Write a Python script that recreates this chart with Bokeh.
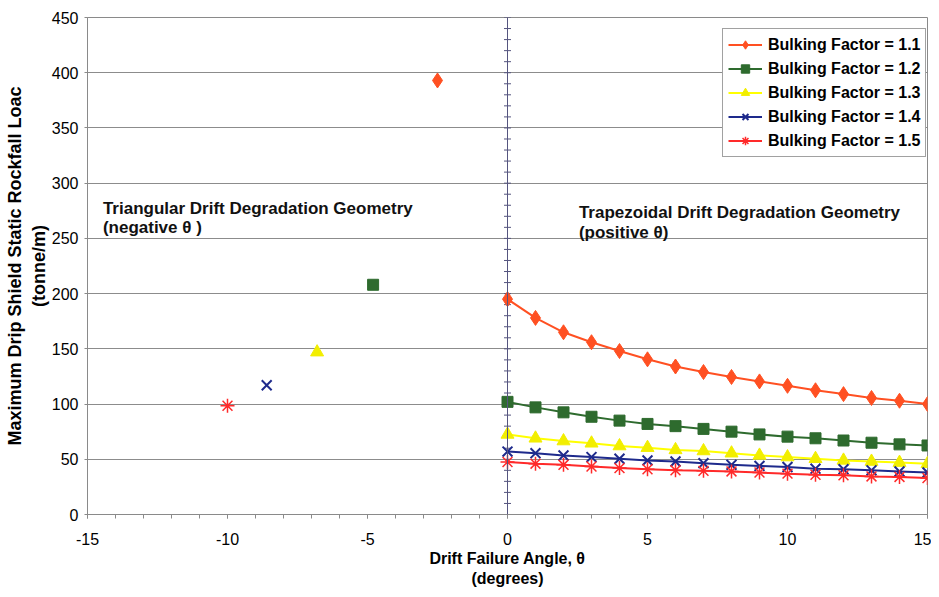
from bokeh.plotting import figure
from bokeh.models import (SingleIntervalTicker, Span, Legend, LegendItem, PrintfTickFormatter)
from bokeh.core.properties import value
from bokeh.embed import file_html
from bokeh.resources import INLINE
import numpy as np

# ---- data ----
theta = list(range(0, 16))
bf11 = [195, 178, 165, 156, 148, 140.5, 134, 129, 124.5, 120.5, 116.5, 112.5, 109, 105.5, 103, 100]
bf12 = [102, 97, 92.5, 88.5, 85, 82, 80, 77.5, 75, 72.5, 70.5, 69, 67, 65, 63.5, 62.5]
bf13 = [72.5, 69, 66.5, 64.5, 62, 60.5, 58.5, 57.5, 55.5, 53.5, 52, 50.5, 49, 48, 47, 46]
bf14 = [57, 55.5, 53.5, 52, 50.5, 49, 48, 46.5, 45, 44, 43, 41.5, 41, 40, 39, 38]
bf15 = [47.5, 46, 45, 43.5, 42, 41, 40, 39.5, 39, 38, 37, 36, 35.5, 34.5, 34, 33]

tri_theta = [-2.5, -4.8, -6.8, -8.6, -10.0]
tri_load = [393, 208, 147, 117, 98.5]

labels = ["Bulking Factor = 1.1", "Bulking Factor = 1.2", "Bulking Factor = 1.3",
          "Bulking Factor = 1.4", "Bulking Factor = 1.5"]
series = [bf11, bf12, bf13, bf14, bf15]

FONT = "Liberation Sans"

p = figure(width=931, height=589, x_range=(-15, 15), y_range=(0, 450),
           output_backend="svg", toolbar_location=None,
           min_border_left=87, min_border_right=4, min_border_top=17, min_border_bottom=72)
p.background_fill_color = "white"
p.border_fill_color = "white"
p.outline_line_color = "#8a8a8a"
p.outline_line_width = 1

# axes
p.xaxis.ticker = SingleIntervalTicker(interval=5, num_minor_ticks=5)
p.yaxis.ticker = SingleIntervalTicker(interval=50, num_minor_ticks=0)
p.xaxis.formatter = PrintfTickFormatter(format="%d")
for ax in (p.xaxis[0], p.yaxis[0]):
    ax.major_label_text_font = FONT
    ax.major_label_text_font_size = "16px"
    ax.major_label_text_color = "black"
    ax.axis_label_text_font = FONT
    ax.axis_label_text_font_style = "bold"
    ax.axis_label_text_color = "black"
    ax.axis_line_color = "#8a8a8a"
    ax.major_tick_line_color = "#8a8a8a"
    ax.minor_tick_line_color = "#8a8a8a"
    ax.major_tick_in = 0
    ax.minor_tick_in = 0

p.xaxis.major_tick_out = 4
p.xaxis.minor_tick_out = 4
p.xaxis.major_label_standoff = 14
p.xaxis.axis_label = "Drift Failure Angle, θ\n(degrees)"
p.xaxis.axis_label_text_font_size = "16px"
p.xaxis.axis_label_standoff = 2

p.yaxis.major_tick_out = 3
p.yaxis.minor_tick_out = 0
p.yaxis.major_label_standoff = 6
p.yaxis.axis_label = "Maximum Drip Shield Static Rockfall Loac\n(tonne/m)"
p.yaxis.axis_label_text_font_size = "18px"
p.yaxis.axis_label_standoff = 0

p.xgrid.visible = False
p.ygrid.grid_line_color = "#8c8c8c"
p.ygrid.grid_line_width = 1

# vertical axis through theta = 0 with cross ticks
p.add_layout(Span(location=0, dimension="height", line_color="#55557f", line_width=1))
yt = np.arange(0, 451, 10)
p.scatter(x=np.zeros_like(yt), y=yt, marker="dash", size=7, line_color="#55557f", line_width=1)

colors = ["#ff5022", "#2e6b2e", "#ffff00", "#1e2a8c", "#ff2a2a"]
fills = ["#ff5022", "#2e6b2e", "#f2ee00", "#1e2a8c", "#ff2a2a"]
markers = ["diamond", "square", "triangle", "x", "asterisk"]
sizes = [15, 11, 13, 14, 14]
lws = [1, 1, 1, 2, 1.5]

items = []
for i, (lab, ys) in enumerate(zip(labels, series)):
    ln = p.line(theta, ys, line_color=colors[i], line_width=2)
    xs = [tri_theta[i]] + theta
    yv = [tri_load[i]] + ys
    sc = p.scatter(xs, yv, marker=markers[i], size=sizes[i],
                   fill_color=fills[i], line_color=fills[i], line_width=lws[i])
    items.append(LegendItem(label=lab, renderers=[ln, sc]))

legend = Legend(items=items, location=(635, 357))
legend.label_text_font = FONT
legend.label_text_font_style = "bold"
legend.label_text_font_size = "16px"
legend.label_text_color = "black"
legend.glyph_width = 34
legend.glyph_height = 21
legend.label_height = 21
legend.label_standoff = 6
legend.spacing = 3
legend.padding = 5
legend.margin = 0
legend.border_line_color = "#444444"
legend.border_line_width = 1
legend.background_fill_color = "white"
legend.background_fill_alpha = 1
p.add_layout(legend, "center")

# annotations
ann_x = [-14.45, -14.45, 2.55, 2.55]
ann_y = [277, 260, 273, 255]
ann_t = ["Triangular Drift Degradation Geometry", "(negative θ )",
         "Trapezoidal Drift Degradation Geometry", "(positive θ)"]
p.text(x=ann_x, y=ann_y, text=ann_t, text_font=value(FONT), text_font_style="bold",
       text_font_size="17px", text_color="#111111", text_baseline="alphabetic", text_align="left")

open("out.html", "w").write(file_html(p, INLINE))
